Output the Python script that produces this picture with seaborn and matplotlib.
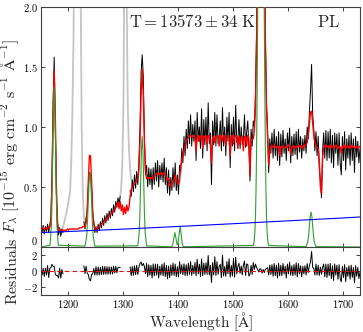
import numpy as np
import pandas as pd
import matplotlib
matplotlib.use("Agg")
import matplotlib.pyplot as plt
import seaborn as sns

# ---------------- data ----------------
# model spectrum (red), 2 A grid 1150..1730
MODEL_WAVE = np.arange(1150, 1731, 2)
MODEL_FLUX = [
    0.16, 0.15, 0.16, 0.15, 0.15, 0.16, 0.15, 0.17, 0.16, 0.22,   # 1150
    0.51, 1.11, 1.47, 1.11, 0.51, 0.21, 0.15, 0.14, 0.14, 0.14,   # 1170
    0.14, 0.14, 0.14, 0.14, 0.15, 0.14, 0.15, 0.15, 0.15, 0.15,   # 1190
    0.15, 0.15, 0.15, 0.15, 0.15, 0.16, 0.16, 0.16, 0.17, 0.17,   # 1210
    0.17, 0.20, 0.32, 0.55, 0.76, 0.76, 0.55, 0.31, 0.19, 0.15,   # 1230
    0.14, 0.15, 0.16, 0.17, 0.18, 0.19, 0.20, 0.21, 0.22, 0.23,   # 1250
    0.24, 0.25, 0.26, 0.27, 0.28, 0.29, 0.30, 0.31, 0.33, 0.35,   # 1270
    0.37, 0.32, 0.38, 0.30, 0.35, 0.27, 0.33, 0.28, 0.35, 0.30,   # 1290
    0.33, 0.42, 0.48, 0.50, 0.52, 0.53, 0.54, 0.55, 0.57, 0.64,   # 1310
    0.87, 1.26, 1.48, 1.26, 0.87, 0.64, 0.57, 0.58, 0.57, 0.58,   # 1330
    0.57, 0.58, 0.56, 0.59, 0.60, 0.61, 0.62, 0.60, 0.61, 0.62,   # 1350
    0.60, 0.61, 0.62, 0.60, 0.58, 0.56, 0.57, 0.52, 0.50, 0.53,   # 1370
    0.55, 0.56, 0.60, 0.55, 0.54, 0.52, 0.55, 0.66, 0.72, 0.76,   # 1390
    0.80, 0.84, 0.87, 0.90, 0.91, 0.92, 0.93, 0.92, 0.92, 0.93,   # 1410
    0.90, 0.80, 0.91, 0.93, 0.88, 0.92, 0.93, 0.82, 0.92, 0.91,   # 1430
    0.93, 0.86, 0.92, 0.93, 0.85, 0.70, 0.90, 0.92, 0.87, 0.92,   # 1450
    0.93, 0.92, 0.84, 0.93, 0.92, 0.88, 0.93, 0.92, 0.85, 0.91,   # 1470
    0.93, 0.90, 0.76, 0.92, 0.93, 0.86, 0.91, 0.93, 0.92, 0.82,   # 1490
    0.92, 0.86, 0.91, 0.92, 0.80, 0.92, 0.91, 0.84, 0.93, 0.91,   # 1510
    0.60, 0.88, 0.90, 0.90, 0.97, 1.16, 1.71, 2.85, 4.54, 6.20,   # 1530
    6.90, 6.20, 4.54, 2.85, 1.71, 1.15, 0.92, 0.68, 0.80, 0.84,   # 1550
    0.84, 0.83, 0.85, 0.84, 0.82, 0.84, 0.83, 0.76, 0.84, 0.83,   # 1570
    0.84, 0.83, 0.82, 0.84, 0.83, 0.85, 0.84, 0.77, 0.83, 0.84,   # 1590
    0.83, 0.84, 0.82, 0.83, 0.85, 0.84, 0.83, 0.84, 0.82, 0.85,   # 1610
    0.84, 0.85, 0.87, 0.93, 1.02, 1.12, 1.13, 1.03, 0.93, 0.87,   # 1630
    0.84, 0.83, 0.82, 0.72, 0.50, 0.45, 0.74, 0.83, 0.84, 0.85,   # 1650
    0.83, 0.84, 0.82, 0.85, 0.83, 0.84, 0.82, 0.83, 0.85, 0.84,   # 1670
    0.82, 0.84, 0.83, 0.78, 0.84, 0.83, 0.85, 0.82, 0.84, 0.83,   # 1690
    0.84, 0.82, 0.85, 0.83, 0.84, 0.82, 0.83, 0.84, 0.82, 0.83,   # 1710
    0.84,                                                         # 1730
]

# observed spectrum (black), three unmasked segments
OBS1_WAVE = np.arange(1150, 1191, 2)
OBS1_FLUX = [
    0.19, 0.12, 0.18, 0.11, 0.17, 0.13, 0.19, 0.12, 0.18, 0.25,
    0.60, 1.20, 1.58, 1.05, 0.45, 0.17, 0.10, 0.16, 0.09, 0.15,
    0.12,
]
OBS2_WAVE = np.arange(1228, 1295, 2)
OBS2_FLUX = [
    0.21, 0.15, 0.24, 0.30, 0.50, 0.62, 0.60, 0.50, 0.28, 0.21,
    0.12, 0.17, 0.12, 0.19, 0.14, 0.21, 0.16, 0.24, 0.18, 0.26,
    0.20, 0.28, 0.22, 0.30, 0.24, 0.32, 0.26, 0.35, 0.29, 0.38,
    0.33, 0.41, 0.36, 0.42,
]
OBS3_WAVE = np.arange(1312, 1731, 2)
OBS3_FLUX = [
    0.47, 0.42, 0.56, 0.46, 0.60, 0.49, 0.63, 0.52, 0.70,          # 1312
    1.00, 1.45, 1.60, 1.42, 0.95, 0.60, 0.68, 0.50, 0.66, 0.52,    # 1330
    0.65, 0.48, 0.66, 0.52, 0.70, 0.55, 0.72, 0.50, 0.68, 0.56,    # 1350
    0.70, 0.54, 0.74, 0.52, 0.66, 0.45, 0.64, 0.43, 0.58, 0.47,    # 1370
    0.66, 0.50, 0.70, 0.47, 0.60, 0.44, 0.68, 0.62, 0.82, 0.70,    # 1390
    0.92, 0.76, 0.98, 0.82, 1.05, 0.86, 1.10, 0.84, 1.02, 0.88,    # 1410
    1.05, 0.72, 1.12, 0.88, 1.00, 0.82, 1.15, 0.74, 1.06, 0.85,    # 1430
    1.08, 0.80, 1.20, 0.86, 0.95, 0.52, 1.05, 0.85, 1.12, 0.84,    # 1450
    1.10, 0.86, 0.92, 1.05, 0.80, 1.16, 0.84, 1.00, 0.76, 1.08,    # 1470
    0.88, 1.12, 0.66, 1.02, 0.84, 1.08, 0.80, 1.18, 0.87, 0.90,    # 1490
    1.06, 0.82, 1.00, 0.85, 0.90, 1.10, 0.83, 0.96, 1.05, 0.82,    # 1510
    0.55, 0.98, 0.84, 1.05, 1.00, 1.30, 1.80, 2.90, 4.50, 6.30,    # 1530
    7.00, 6.10, 4.60, 2.80, 1.75, 1.20, 0.98, 0.62, 0.90, 0.78,    # 1550
    0.95, 0.74, 0.98, 0.76, 0.92, 0.72, 0.96, 0.68, 0.94, 0.75,    # 1570
    0.97, 0.78, 0.90, 0.72, 0.95, 0.80, 0.99, 0.70, 0.92, 0.76,    # 1590
    0.94, 0.77, 0.96, 0.73, 0.98, 0.79, 0.92, 0.74, 0.90, 0.80,    # 1610
    0.93, 0.78, 1.00, 0.90, 1.12, 1.30, 1.52, 1.10, 0.98, 0.80,    # 1630
    0.96, 0.76, 0.92, 0.65, 0.55, 0.41, 0.80, 0.95, 0.74, 0.97,    # 1650
    0.72, 0.96, 0.74, 0.98, 0.70, 0.93, 0.66, 0.95, 0.78, 0.94,    # 1670
    0.68, 0.95, 0.70, 0.60, 0.92, 0.72, 0.96, 0.64, 0.90, 0.74,    # 1690
    0.93, 0.68, 0.95, 0.72, 0.90, 0.62, 0.92, 0.75, 0.88, 0.70,    # 1710
    0.82,                                                          # 1730
]
ERR_SCALE = 0.15   # flux error ~ ERR_SCALE * sqrt(model)

# masked regions (grey): geocoronal Ly-alpha and O I
LYA_WAVE = [1186, 1188, 1192, 1196, 1200, 1203, 1205, 1207, 1209, 1211, 1214,
            1216, 1219, 1221, 1222.5, 1224, 1226, 1228, 1230]
LYA_FLUX = [0.13, 0.14, 0.20, 0.28, 0.37, 0.47, 0.70, 1.10, 1.70, 2.60, 4.00,
            4.50, 3.50, 2.50, 1.90, 1.00, 0.45, 0.25, 0.20]
OI_WAVE = [1292, 1294, 1296, 1298, 1300, 1301, 1302, 1304, 1305, 1306, 1307,
           1308, 1310, 1313, 1316]
OI_FLUX = [0.37, 0.42, 0.50, 0.72, 1.20, 2.00, 2.90, 3.20, 2.80, 2.00, 1.50,
           1.15, 0.80, 0.60, 0.52]

# emission-line components (green)
GREEN_WAVE = [1150,
              1166.5, 1169.0, 1170.2, 1171.5, 1172.8, 1174.0, 1175.2, 1176.5, 1177.8, 1179.0, 1181.5,
              1230, 1233, 1234.5, 1236, 1237.5, 1239, 1240.5, 1242, 1243.5, 1245, 1248,
              1326, 1328.6, 1330, 1331.3, 1332.7, 1334, 1335.3, 1336.7, 1338, 1339.4, 1342,
              1387.5, 1389.5, 1391.5, 1393.5, 1395.5, 1397.5, 1399, 1401, 1403, 1405, 1407, 1409,
              1536, 1537, 1538, 1539, 1540, 1541, 1542, 1543, 1544, 1545, 1546, 1547, 1548, 1549,
              1550, 1551, 1552, 1553, 1554, 1555, 1556, 1557, 1558, 1559, 1560, 1561, 1562, 1563, 1564,
              1632, 1635, 1636.5, 1638, 1639.5, 1641, 1642.5, 1644, 1645.5, 1647, 1650,
              1730]
GREEN_FLUX = [0.0,
              0.015, 0.18, 0.43, 0.81, 1.17, 1.33, 1.17, 0.81, 0.43, 0.18, 0.015,
              0.007, 0.084, 0.20, 0.38, 0.55, 0.62, 0.55, 0.38, 0.20, 0.084, 0.007,
              0.01, 0.12, 0.30, 0.56, 0.81, 0.92, 0.81, 0.56, 0.30, 0.12, 0.01,
              0.001, 0.016, 0.073, 0.12, 0.073, 0.02, 0.026, 0.10, 0.17, 0.10, 0.023, 0.002,
              0.013, 0.031, 0.067, 0.136, 0.26, 0.48, 0.81, 1.30, 1.95, 2.74, 3.64, 4.51, 5.29, 5.82,
              6.0, 5.82, 5.29, 4.51, 3.64, 2.74, 1.95, 1.30, 0.81, 0.48, 0.26, 0.136, 0.067, 0.031, 0.013,
              0.003, 0.039, 0.094, 0.176, 0.256, 0.29, 0.256, 0.176, 0.094, 0.039, 0.003,
              0.0]

# power-law continuum (blue)
PL_WAVE = [1150, 1200, 1300, 1400, 1500, 1600, 1700, 1730]
PL_FLUX = [0.120, 0.129, 0.149, 0.171, 0.194, 0.218, 0.242, 0.250]

X_TICKS = [1200, 1300, 1400, 1500, 1600, 1700]
Y_TICKS = [0, 0.5, 1.0, 1.5, 2.0]
Y_TICK_LABELS = ["0", "0.5", "1.0", "1.5", "2.0"]
R_TICKS = [-2, 0, 2]
R_TICK_LABELS = ["-2", "0", "2"]
TEMP_TEXT = r"$\mathrm{T} = 13573 \pm 34\ \mathrm{K}$"
MODEL_TEXT = r"$\mathrm{PL}$"

# ---------------- style ----------------
sns.set_theme(style="ticks")
SPINE = "#404040"
plt.rcParams.update({
    "font.family": ["DejaVu Serif"],
    "mathtext.fontset": "cm",
    "xtick.direction": "in",
    "ytick.direction": "in",
    "xtick.top": True,
    "ytick.right": True,
    "xtick.major.size": 3.0,
    "ytick.major.size": 3.0,
    "xtick.major.width": 0.7,
    "ytick.major.width": 0.7,
    "xtick.color": SPINE,
    "ytick.color": SPINE,
    "xtick.labelcolor": "black",
    "ytick.labelcolor": "black",
    "axes.edgecolor": SPINE,
    "axes.linewidth": 0.8,
})

fig = plt.figure(figsize=(3.63, 3.32), dpi=100)
ax = fig.add_axes([0.1129, 0.2560, 0.8788, 0.7238])
axr = fig.add_axes([0.1129, 0.1114, 0.8788, 0.1446], sharex=ax)

model = pd.DataFrame({"wave": MODEL_WAVE, "flux": MODEL_FLUX})
segments = [pd.DataFrame({"wave": w, "flux": f}) for w, f in
            [(OBS1_WAVE, OBS1_FLUX), (OBS2_WAVE, OBS2_FLUX), (OBS3_WAVE, OBS3_FLUX)]]

def line(axis, x, y, **kw):
    sns.lineplot(x=x, y=y, ax=axis, estimator=None, sort=False, **kw)

# masked regions
line(ax, LYA_WAVE, LYA_FLUX, color="#c4c4c4", lw=1.3, zorder=1)
line(ax, OI_WAVE, OI_FLUX, color="#c4c4c4", lw=1.3, zorder=1)

# observed data + residuals
for seg in segments:
    line(ax, seg["wave"], seg["flux"], color="black", lw=0.7, zorder=2)
    m = seg.merge(model, on="wave", suffixes=("_obs", "_mod"))
    resid = (m["flux_obs"] - m["flux_mod"]) / (ERR_SCALE * np.sqrt(m["flux_mod"]))
    line(axr, m["wave"], resid, color="black", lw=0.7, zorder=2)

line(ax, model["wave"], model["flux"], color="red", lw=1.0, zorder=3)
line(ax, GREEN_WAVE, GREEN_FLUX, color="#2e9e2e", lw=0.8, zorder=4)
line(ax, PL_WAVE, PL_FLUX, color="blue", lw=0.8, zorder=5)

axr.axhline(0, color="red", lw=0.8, ls=(0, (4, 3)), zorder=3)

# axes formatting
ax.set_xlim(1150, 1730)
ax.set_ylim(0, 2.0)
axr.set_ylim(-3, 3)
ax.set_xticks(X_TICKS)
axr.set_xticks(X_TICKS)
axr.set_xticklabels([f"${t}$" for t in X_TICKS])
ax.tick_params(axis="x", labelbottom=False)
ax.set_yticks(Y_TICKS)
ax.set_yticklabels([f"${t}$" for t in Y_TICK_LABELS])
axr.set_yticks(R_TICKS)
axr.set_yticklabels([f"${t}$" for t in R_TICK_LABELS])
for a in (ax, axr):
    a.tick_params(labelsize=7.5, pad=2.5)
    a.set_xlabel("")
    a.set_ylabel("")
# keep the main panel's "0" clear of the residual panel's "2"
ax.yaxis.get_major_ticks()[0].label1.set_va("bottom")

ax.set_ylabel(r"$F_\lambda\ [10^{-15}\ \mathrm{erg\ cm^{-2}\ s^{-1}\ \AA^{-1}}]$", fontsize=11.5)
axr.set_ylabel(r"$\mathrm{Residuals}$", fontsize=11.5)
axr.set_xlabel(r"$\mathrm{Wavelength\ [\AA]}$", fontsize=11, labelpad=0)
ax.yaxis.set_label_coords(-0.062, 0.462)
axr.yaxis.set_label_coords(-0.062, 0.5)

ax.text(0.476, 0.936, TEMP_TEXT, transform=ax.transAxes, ha="center", va="center", fontsize=12)
ax.text(0.901, 0.935, MODEL_TEXT, transform=ax.transAxes, ha="center", va="center", fontsize=12)

fig.savefig("out.png", dpi=100)
